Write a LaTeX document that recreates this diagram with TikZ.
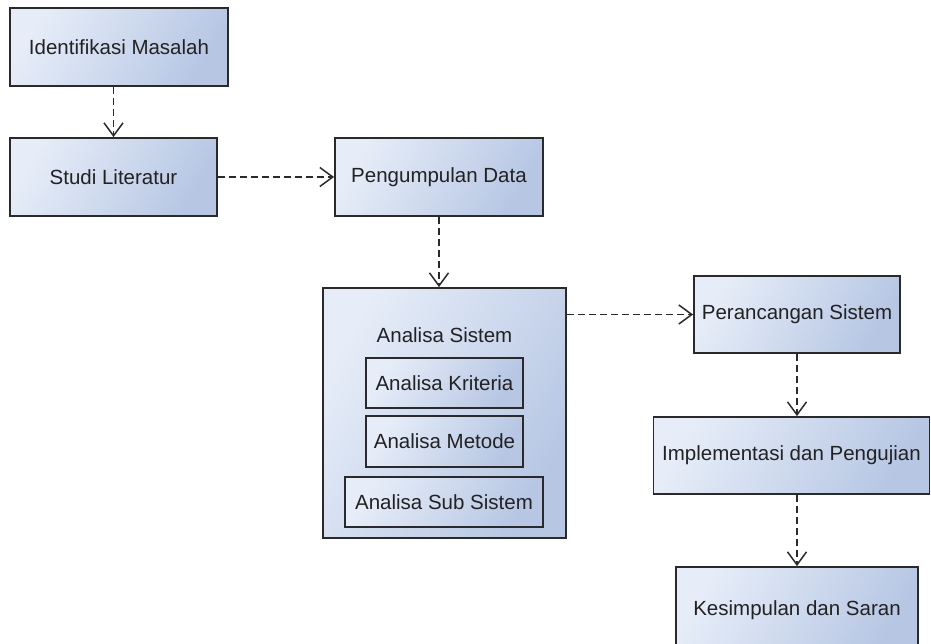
\documentclass[tikz,border=0pt]{standalone}
\usepackage{fontspec}
\setmainfont{Liberation Sans}
\usetikzlibrary{arrows.meta}
\definecolor{boxlight}{HTML}{E6EDF8}
\definecolor{boxdark}{HTML}{B6C6E3}
\definecolor{edgec}{HTML}{2A2A2A}
\definecolor{txt}{HTML}{222222}
\tikzset{
  box/.style={draw=edgec, line width=1.8pt, rectangle, inner sep=0pt,
    shading=axis, left color=boxlight, right color=boxdark, shading angle=60,
    font=\fontsize{20.5}{24}\selectfont, text=txt},
  flow/.style={draw=edgec, line width=1.5pt, dash pattern=on 7pt off 4pt,
    -{Straight Barb[length=13pt,width=19pt,line width=1.5pt]}}
}
\begin{document}
\begin{tikzpicture}[x=1pt,y=-1pt]
\useasboundingbox (0,0) rectangle (931,643);
\begin{scope}
\clip (0,0) rectangle (931,643);
\node[box, minimum width=218pt, minimum height=78pt] (idm) at (119,47) {Identifikasi Masalah};
\node[box, minimum width=207pt, minimum height=78pt] (studi) at (113.5,177) {Studi Literatur};
\node[box, minimum width=208pt, minimum height=78pt] (peng) at (439,177) {Pengumpulan Data};
\node[box, minimum width=243pt, minimum height=250pt] (anal) at (444.5,413) {};
\node[font=\fontsize{20.5}{24}\selectfont, text=txt, inner sep=0pt] (antitle) at (444.5,335) {Analisa Sistem};
\node[box, minimum width=157pt, minimum height=50pt] (krit) at (444.5,383) {Analisa Kriteria};
\node[box, minimum width=157pt, minimum height=51pt] (meto) at (444.5,441.5) {Analisa Metode};
\node[box, minimum width=198pt, minimum height=50pt] (subs) at (444,502) {Analisa Sub Sistem};
\node[box, minimum width=206pt, minimum height=77pt] (peran) at (797,314.5) {Perancangan Sistem};
\node[box, minimum width=276pt, minimum height=77pt] (impl) at (791.5,455.5) {Implementasi dan Pengujian};
\node[box, minimum width=242pt, minimum height=86pt] (kesi) at (797,610) {Kesimpulan dan Saran};
\end{scope}
\draw[flow] (idm.south -| studi.center) -- (studi.north);
\draw[flow] (studi.east) -- (peng.west);
\draw[flow] (peng.south) -- (anal.north -| peng.south);
\draw[flow] (anal.east |- peran.west) -- (peran.west);
\draw[flow] (peran.south) -- (impl.north -| peran.south);
\draw[flow] (impl.south -| kesi.north) -- (kesi.north);
\end{tikzpicture}
\end{document}
